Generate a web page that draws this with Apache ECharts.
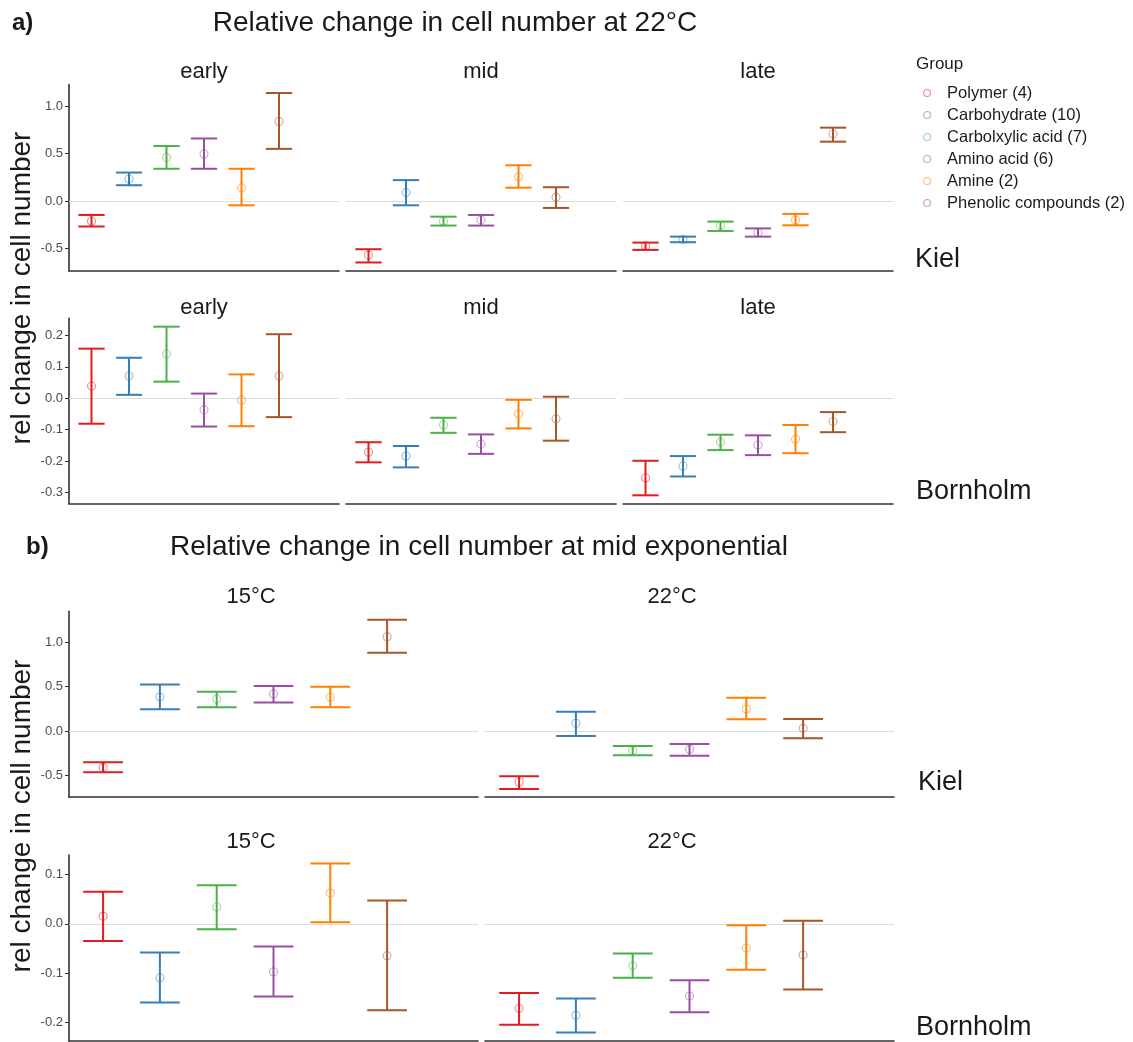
<!DOCTYPE html>
<html>
<head>
<meta charset="utf-8">
<script src="https://cdn.jsdelivr.net/npm/echarts@6/dist/echarts.min.js"></script>
<style>
  html, body { margin: 0; padding: 0; background: #fff; }
  #chart { width: 1133px; height: 1042px; }
</style>
</head>
<body>
<div id="chart"></div>
<script>
const groups = ['Polymer (4)', 'Carbohydrate (10)', 'Carbolxylic acid (7)', 'Amino acid (6)', 'Amine (2)', 'Phenolic compounds (2)'];
const colors = ['#E41A1C', '#377EB8', '#4DAF4A', '#984EA3', '#FF7F00', '#A65628'];
const pointColors = ['rgba(228,26,28,0.65)', 'rgba(55,126,184,0.65)', 'rgba(77,175,74,0.65)', 'rgba(152,78,163,0.65)', 'rgba(255,127,0,0.65)', 'rgba(166,86,40,0.65)'];

// each entry: [mean, lower, upper], one per group
const aKielEarly = [[-0.215, -0.27, -0.148], [0.232, 0.166, 0.30], [0.46, 0.34, 0.58], [0.496, 0.34, 0.66], [0.14, -0.046, 0.34], [0.84, 0.55, 1.14]];
const aKielMid = [[-0.57, -0.65, -0.51], [0.088, -0.046, 0.22], [-0.215, -0.26, -0.166], [-0.20, -0.26, -0.148], [0.257, 0.14, 0.377], [0.04, -0.074, 0.145]];
const aKielLate = [[-0.475, -0.517, -0.44], [-0.405, -0.436, -0.377], [-0.26, -0.317, -0.218], [-0.335, -0.377, -0.29], [-0.2, -0.257, -0.137], [0.707, 0.626, 0.774]];
const aBornEarly = [[0.039, -0.081, 0.158], [0.071, 0.011, 0.129], [0.141, 0.053, 0.228], [-0.037, -0.090, 0.015], [-0.006, -0.089, 0.076], [0.071, -0.06, 0.204]];
const aBornMid = [[-0.172, -0.204, -0.14], [-0.184, -0.22, -0.152], [-0.085, -0.11, -0.062], [-0.146, -0.177, -0.115], [-0.05, -0.096, -0.005], [-0.065, -0.135, 0.005]];
const aBornLate = [[-0.253, -0.309, -0.199], [-0.216, -0.249, -0.184], [-0.139, -0.165, -0.116], [-0.149, -0.181, -0.118], [-0.13, -0.175, -0.085], [-0.074, -0.108, -0.044]];
const bKiel15 = [[-0.41, -0.466, -0.353], [0.383, 0.245, 0.526], [0.36, 0.267, 0.443], [0.417, 0.323, 0.507], [0.383, 0.267, 0.5], [1.063, 0.883, 1.255]];
const bKiel22 = [[-0.575, -0.655, -0.51], [0.087, -0.056, 0.218], [-0.222, -0.274, -0.169], [-0.206, -0.278, -0.147], [0.248, 0.132, 0.375], [0.03, -0.082, 0.135]];
const bBorn15 = [[0.015, -0.035, 0.0645], [-0.109, -0.159, -0.058], [0.034, -0.011, 0.078], [-0.097, -0.147, -0.046], [0.062, 0.003, 0.122], [-0.0645, -0.175, 0.047]];
const bBorn22 = [[-0.171, -0.204, -0.140], [-0.185, -0.220, -0.151], [-0.085, -0.109, -0.06], [-0.146, -0.179, -0.114], [-0.049, -0.093, -0.003], [-0.063, -0.133, 0.006]];

// tick labels per facet row
const kielTicks = [-0.5, 0, 0.5, 1.0];
const aBornTicks = [-0.3, -0.2, -0.1, 0, 0.1, 0.2];
const bBornTicks = [-0.2, -0.1, 0, 0.1];

const FONT = '"Liberation Sans", Arial, sans-serif';

// layout of the ten facets
const panels = [
  { data: aKielEarly, left: 69, top: 84.5, width: 270, height: 186.5, min: -0.74, max: 1.23, ticks: kielTicks, yAxis: true },
  { data: aKielMid, left: 346, top: 84.5, width: 270, height: 186.5, min: -0.74, max: 1.23, ticks: kielTicks, yAxis: false },
  { data: aKielLate, left: 623, top: 84.5, width: 270, height: 186.5, min: -0.74, max: 1.23, ticks: kielTicks, yAxis: false },
  { data: aBornEarly, left: 69, top: 318.2, width: 270, height: 185.6, min: -0.336, max: 0.255, ticks: aBornTicks, yAxis: true },
  { data: aBornMid, left: 346, top: 318.2, width: 270, height: 185.6, min: -0.336, max: 0.255, ticks: aBornTicks, yAxis: false },
  { data: aBornLate, left: 623, top: 318.2, width: 270, height: 185.6, min: -0.336, max: 0.255, ticks: aBornTicks, yAxis: false },
  { data: bKiel15, left: 69, top: 611.3, width: 409, height: 185.8, min: -0.745, max: 1.35, ticks: kielTicks, yAxis: true },
  { data: bKiel22, left: 485, top: 611.3, width: 409, height: 185.8, min: -0.745, max: 1.35, ticks: kielTicks, yAxis: false },
  { data: bBorn15, left: 69, top: 855, width: 409, height: 186, min: -0.237, max: 0.139, ticks: bBornTicks, yAxis: true },
  { data: bBorn22, left: 485, top: 855, width: 409, height: 186, min: -0.237, max: 0.139, ticks: bBornTicks, yAxis: false }
];

const grids = [], xAxes = [], yAxes = [], scatterSeries = [], barSeries = [];

function renderErrorBar(params, api) {
  const x = api.value(0);
  const lo = api.coord([x, api.value(1)]);
  const hi = api.coord([x, api.value(2)]);
  const half = api.size([0.7, 0])[0] / 2;
  const style = { stroke: api.visual('color'), lineWidth: 2 };
  return {
    type: 'group',
    children: [
      { type: 'line', shape: { x1: lo[0], y1: lo[1], x2: hi[0], y2: hi[1] }, style },
      { type: 'line', shape: { x1: lo[0] - half, y1: lo[1], x2: lo[0] + half, y2: lo[1] }, style },
      { type: 'line', shape: { x1: hi[0] - half, y1: hi[1], x2: hi[0] + half, y2: hi[1] }, style }
    ]
  };
}

panels.forEach((p, i) => {
  grids.push({ left: p.left, top: p.top, width: p.width, height: p.height });
  xAxes.push({
    type: 'value', gridIndex: i, min: 0.4, max: 7.6,
    axisLine: { show: true, onZero: false, lineStyle: { color: '#333', width: 1.6 } },
    axisTick: { show: false }, axisLabel: { show: false }, splitLine: { show: false }
  });
  yAxes.push({
    type: 'value', gridIndex: i, min: p.min, max: p.max,
    axisLine: { show: p.yAxis, onZero: false, lineStyle: { color: '#333', width: 1.6 } },
    axisTick: { show: p.yAxis, length: 4, customValues: p.ticks, lineStyle: { color: '#333', width: 1 } },
    axisLabel: {
      show: p.yAxis, customValues: p.ticks, margin: 6, fontSize: 13, color: '#4d4d4d', fontFamily: FONT,
      formatter: v => v.toFixed(1)
    },
    splitLine: { show: false }
  });
  p.data.forEach((d, g) => {
    const s = {
      type: 'scatter', name: groups[g], xAxisIndex: i, yAxisIndex: i,
      data: [[g + 1, d[0]]], symbol: 'circle', symbolSize: 8, z: 4,
      itemStyle: { color: 'rgba(0,0,0,0)', borderColor: pointColors[g], borderWidth: 1.1 }
    };
    if (g === 0) {
      s.markLine = {
        silent: true, symbol: ['none', 'none'], label: { show: false }, z: 1,
        lineStyle: { color: '#dcdcdc', width: 1, type: 'solid' },
        data: [{ yAxis: 0 }]
      };
    }
    scatterSeries.push(s);
    barSeries.push({
      type: 'custom', name: groups[g], xAxisIndex: i, yAxisIndex: i,
      data: [[g + 1, d[1], d[2]]], encode: { x: 0, y: [1, 2] },
      itemStyle: { color: colors[g] }, renderItem: renderErrorBar, z: 3
    });
  });
});

function txt(text, x, y, size, opts) {
  return {
    type: 'text', x: x, y: y, rotation: (opts && opts.rotation) || 0, silent: true,
    style: {
      text: text, font: ((opts && opts.bold) ? 'bold ' : '') + size + 'px ' + FONT,
      fill: '#1a1a1a', textAlign: (opts && opts.align) || 'center', textVerticalAlign: 'middle'
    }
  };
}

const graphics = [
  txt('a)', 12, 23, 24, { bold: true, align: 'left' }),
  txt('Relative change in cell number at 22°C', 455, 23, 28),
  txt('b)', 26, 547, 24, { bold: true, align: 'left' }),
  txt('Relative change in cell number at mid exponential', 170, 547, 28, { align: 'left' }),
  txt('early', 204, 72, 22), txt('mid', 481, 72, 22), txt('late', 758, 72, 22),
  txt('early', 204, 308, 22), txt('mid', 481, 308, 22), txt('late', 758, 308, 22),
  txt('15°C', 251, 597, 22), txt('22°C', 672, 597, 22),
  txt('15°C', 251, 842, 22), txt('22°C', 672, 842, 22),
  txt('Kiel', 915, 260, 27, { align: 'left' }),
  txt('Bornholm', 916, 492, 27, { align: 'left' }),
  txt('Kiel', 918, 783, 27, { align: 'left' }),
  txt('Bornholm', 916, 1028, 27, { align: 'left' }),
  txt('rel change in cell number', 22, 288, 28, { rotation: Math.PI / 2 }),
  txt('rel change in cell number', 22, 816, 28, { rotation: Math.PI / 2 }),
  txt('Group', 916, 64, 17, { align: 'left' })
];

const chart = echarts.init(document.getElementById('chart'), null, { renderer: 'canvas' });
chart.setOption({
  animation: false,
  backgroundColor: '#fff',
  grid: grids,
  xAxis: xAxes,
  yAxis: yAxes,
  legend: {
    data: groups, orient: 'vertical', left: 923, top: 84, padding: 0,
    itemWidth: 30, itemHeight: 7, itemGap: 4, icon: 'circle',
    itemStyle: { borderWidth: 1.1 },
    textStyle: { fontSize: 16.5, color: '#1a1a1a', fontFamily: FONT, lineHeight: 18 }
  },
  graphic: graphics,
  series: scatterSeries.concat(barSeries)
});
</script>
</body>
</html>
